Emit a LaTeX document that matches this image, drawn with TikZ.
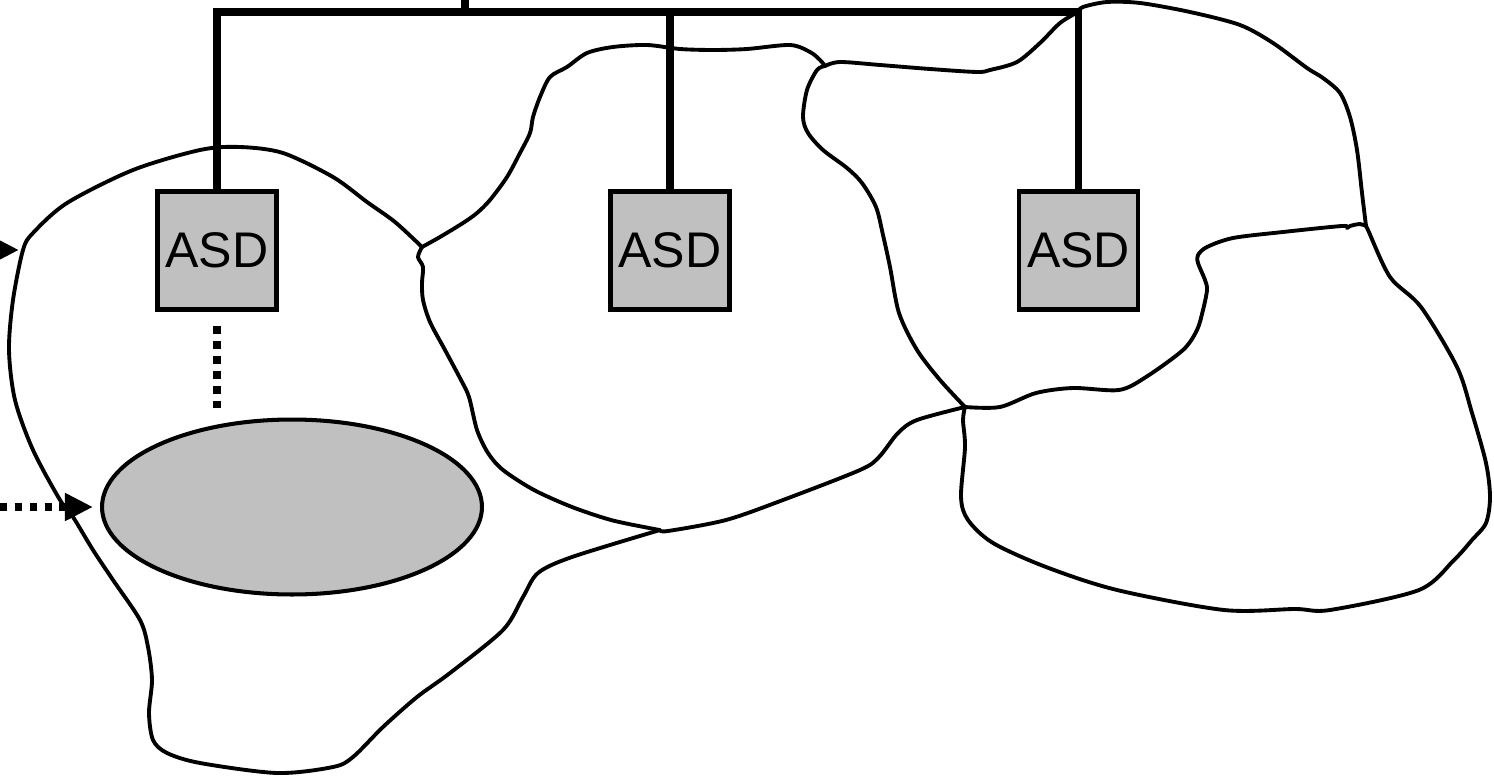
\documentclass[tikz,border=0pt]{standalone}
\usepackage{fontspec}
\newfontfamily\asdfont{Liberation Sans}
\usetikzlibrary{shapes.geometric, arrows.meta}
\definecolor{boxgray}{RGB}{192,192,192}
\tikzset{zone/.style={line width=2.2pt, line join=round, line cap=round},
asd/.style={draw, line width=2.3pt, fill=boxgray, minimum width=2.38cm, minimum height=2.36cm, inner sep=0pt, font=\asdfont\fontsize{28.5}{34}\selectfont},
pool/.style={ellipse, draw, line width=2.3pt, fill=boxgray, minimum width=7.6cm, minimum height=3.5cm, inner sep=0pt},
bus/.style={line width=4.2pt},
link/.style={line width=4.3pt, dash pattern=on 4.2pt off 4.3pt},
feed/.style={link, -{Triangle[length=16pt 0, width=15pt 0]}}}
\begin{document}
\begin{tikzpicture}[x=0.02cm, y=-0.02cm]
        \useasboundingbox (0,0) rectangle (1494,777);
        \clip (0,0) rectangle (1494,777);
        % zones
        \draw[zone] plot[smooth] coordinates {(422,247) (395,222) (367,202) (333,177) (283,153) (240,147) (200,150) (133,170) (67,203) (33,233) (23,250) (13,300) (9,350) (15,400) (33,450) (60,500) (73,517) (93,550) (113,580) (140,620) (148,647) (152,680) (149,713) (153,740) (167,753) (200,763) (277,773) (333,767) (353,757) (383,727) (417,697) (450,673) (503,630) (523,597) (538,573) (572,557) (660,530)};
        \draw[zone] plot[smooth] coordinates {(422,247) (418,257) (423,267) (422,283) (423,300) (430,322) (445,350) (461,380) (469,397) (477,430) (488,453) (503,470) (534,490) (572,507) (611,520) (649,528) (660,530)};
        \draw[zone] plot[smooth] coordinates {(422,247) (440,237) (463,223) (477,213) (490,200) (507,177) (520,153) (530,133) (533,117) (540,97) (550,77) (567,67) (587,53) (613,47) (647,45) (680,49) (713,50) (747,49) (790,45) (810,52) (820,60) (825,66)};
        \draw[zone] plot[smooth] coordinates {(825,66) (840,62) (880,65) (930,69) (977,72) (990,70) (1017,62) (1040,43) (1060,23) (1078,12)};
        \draw[zone] plot[smooth] coordinates {(1078,12) (1083,7) (1107,2) (1140,3) (1190,12) (1240,25) (1273,43) (1307,68) (1323,78) (1340,93) (1350,117) (1357,150) (1362,193) (1366,226)};
        \draw[zone] plot[smooth] coordinates {(825,66) (817,70) (807,90) (803,117) (808,133) (823,150) (847,168) (862,183) (876,207) (883,235) (890,267) (899,313) (917,350) (940,380) (965,407)};
        \draw[zone] plot[smooth] coordinates {(1366,226) (1360,224) (1350,226) (1347,228) (1342,226) (1283,232) (1233,238) (1207,247) (1198,255) (1198,263) (1205,280) (1207,290) (1203,310) (1197,330) (1183,350) (1146,377) (1119,390) (1073,388) (1036,393) (1000,407) (965,407)};
        \draw[zone] plot[smooth] coordinates {(1366,226) (1368,230) (1390,277) (1421,307) (1457,367) (1472,413) (1486,463) (1490,497) (1486,523) (1472,540) (1454,560) (1419,590) (1330,610) (1295,609) (1224,610) (1117,590) (1046,567) (993,543) (968,520) (961,497) (965,447) (963,420) (965,407)};
        \draw[zone] plot[smooth] coordinates {(660,530) (668,531) (726,520) (783,500) (860,470) (879,457) (898,433) (917,420) (965,407)};
        % devices
        \node[pool] (pool) at (292,507) {};
        \node[asd] (asd1) at (217,250.5) {ASD};
        \node[asd] (asd2) at (670,250.5) {ASD};
        \node[asd] (asd3) at (1078.5,250.5) {ASD};
        % bus
        \coordinate (bus) at (0,12);
        \coordinate (up) at (465,-40);
        \draw[bus] (asd1.north) |- (asd3.north |- bus) -- (asd3.north);
        \draw[bus] (asd2.north) -- (asd2.north |- bus);
        \draw[bus] (up) -- (up |- bus);
        % inputs
        \coordinate (in1) at (-60,250);
        \coordinate (tip1) at (19,250);
        \coordinate (in2) at (-60,507);
        \draw[feed] (in1) -- (tip1);
        \draw[feed, shorten >=4pt] (in2) -- (pool.west);
        \draw[link, shorten <=8.5pt, shorten >=1.5pt] (asd1.south) -- (asd1.south |- pool.north);
\end{tikzpicture}
\end{document}
